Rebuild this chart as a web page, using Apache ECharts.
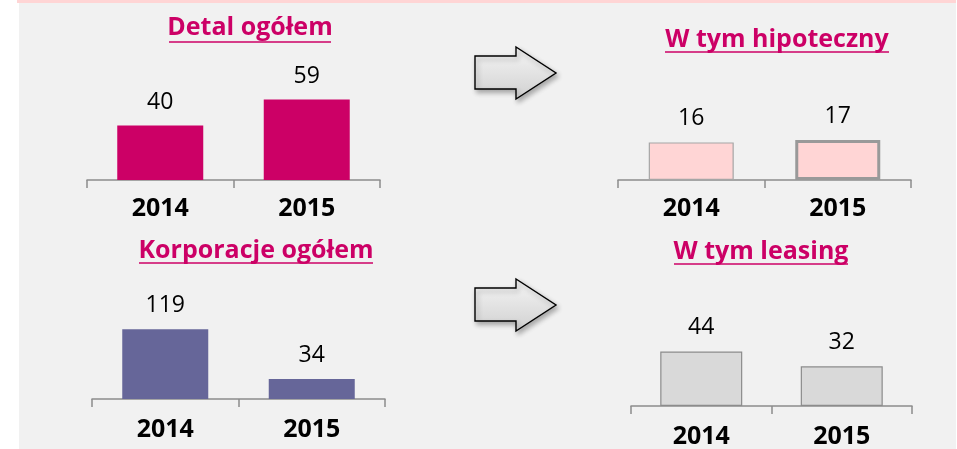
<!DOCTYPE html>
<html>
<head>
<meta charset="utf-8">
<script src="https://cdn.jsdelivr.net/npm/echarts@6/dist/echarts.min.js"></script>
<style>
html,body{margin:0;padding:0;background:#ffffff;}
#chart{width:957px;height:449px;}
</style>
</head>
<body>
<div id="chart"></div>
<script>
// ---- data ----
const years = ['2014', '2015'];
const titles = ['Detal ogółem', 'W tym hipoteczny', 'Korporacje ogółem', 'W tym leasing'];
const detalValues = [40, 59];
const hipotecznyValues = [16, 17];
const korporacjeValues = [119, 34];
const leasingValues = [44, 32];

const FONT = '"Open Sans", sans-serif';
const PINK = '#cc0066';

const chart = echarts.init(document.getElementById('chart'), null, {renderer: 'canvas'});

const grids = [
  {left: 87, top: 71, width: 293, height: 109},
  {left: 618, top: 133, width: 293, height: 47},
  {left: 92, top: 317, width: 293, height: 82},
  {left: 631, top: 344, width: 281, height: 64}
];
const yMax = [80, 20, 140, 50];
const labelMargins = [16, 16, 18, 18];

const xAxes = grids.map((g, i) => ({
  type: 'category',
  gridIndex: i,
  data: years,
  axisLine: {show: true, lineStyle: {color: '#8c8c8c', width: 1.5}},
  axisTick: {show: true, length: 8, lineStyle: {color: '#8c8c8c', width: 1.5}},
  axisLabel: {color: '#000', fontFamily: FONT, fontWeight: 'bold', fontSize: 25, margin: labelMargins[i]}
}));
const yAxes = grids.map((g, i) => ({
  type: 'value', gridIndex: i, min: 0, max: yMax[i], show: false, splitLine: {show: false}
}));

const labelCfg = {show: true, position: 'top', distance: 12, color: '#000', fontFamily: FONT, fontSize: 23};

const series = [
  {
    type: 'bar', xAxisIndex: 0, yAxisIndex: 0, barWidth: 86,
    data: detalValues, itemStyle: {color: PINK}, label: labelCfg
  },
  {
    type: 'bar', xAxisIndex: 1, yAxisIndex: 1, barWidth: 85,
    data: hipotecznyValues.map((v, i) => ({
      value: v,
      itemStyle: {color: '#ffd5d5', borderColor: i === 1 ? '#999999' : '#a6a6a6', borderWidth: i === 1 ? 3 : 1.2}
    })),
    label: labelCfg
  },
  {
    type: 'bar', xAxisIndex: 2, yAxisIndex: 2, barWidth: 86,
    data: korporacjeValues, itemStyle: {color: '#666699'}, label: labelCfg
  },
  {
    type: 'bar', xAxisIndex: 3, yAxisIndex: 3, barWidth: 82,
    data: leasingValues, itemStyle: {color: '#d9d9d9', borderColor: '#8c8c8c', borderWidth: 1.2},
    label: labelCfg
  }
];

// decorations
function arrow(x, top) {
  return {
    type: 'polygon',
    shape: {points: [
      [x, top + 9], [x + 41, top + 9], [x + 41, top], [x + 81, top + 26],
      [x + 41, top + 52], [x + 41, top + 42], [x, top + 42]
    ]},
    style: {
      fill: new echarts.graphic.LinearGradient(0, 0, 0, 1, [
        {offset: 0, color: '#f6f6f6'}, {offset: 1, color: '#d0d0d0'}
      ]),
      stroke: '#000', lineWidth: 1.4,
      shadowBlur: 5, shadowOffsetX: 2, shadowOffsetY: 3, shadowColor: 'rgba(0,0,0,0.3)'
    },
    z: 5
  };
}
const titlePos = [
  {x: 250, y: 28, u1: 169, u2: 331, uy: 42},
  {x: 777, y: 40, u1: 665, u2: 889, uy: 52},
  {x: 256, y: 251, u1: 139, u2: 373, uy: 263},
  {x: 761, y: 252, u1: 674, u2: 848, uy: 264}
];
const graphics = [
  {type: 'rect', shape: {x: 19, y: 0, width: 937, height: 449}, style: {fill: '#f1f1f1'}, z: -10, silent: true},
  {type: 'rect', shape: {x: 17, y: 0, width: 939, height: 3}, style: {fill: '#ffd5d5'}, z: -9, silent: true},
  arrow(475, 47),
  arrow(475, 279)
];
titlePos.forEach((p, i) => {
  graphics.push({
    type: 'text', x: p.x, y: p.y, z: 5,
    style: {text: titles[i], fill: PINK, font: 'bold 25px ' + FONT, textAlign: 'center', textVerticalAlign: 'middle'}
  });
  graphics.push({
    type: 'line', z: 5,
    shape: {x1: p.u1, y1: p.uy, x2: p.u2, y2: p.uy},
    style: {stroke: PINK, lineWidth: 1.5}
  });
});

chart.setOption({
  animation: false,
  backgroundColor: '#ffffff',
  grid: grids,
  xAxis: xAxes,
  yAxis: yAxes,
  series: series,
  graphic: graphics
});
</script>
</body>
</html>
